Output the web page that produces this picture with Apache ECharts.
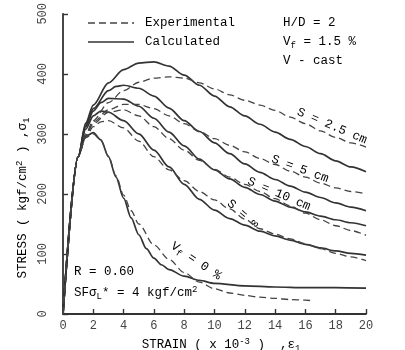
<!DOCTYPE html>
<html><head><meta charset="utf-8">
<script src="https://cdn.jsdelivr.net/npm/echarts@6/dist/echarts.min.js"></script>
<style>html,body{margin:0;padding:0;background:#fff}#c{width:405px;height:350px}</style>
</head><body><div id="c"></div>
<script>
// ---- data (strain x10^-3, stress kgf/cm2) ----
const xTickMax = 20, xTickStep = 2;
const yTickMax = 500, yTickStep = 100;

const calcS25 = [[0,0],[1,262],[1.5,318],[2,348],[3,385],[4,407],[5,418],[6,420],[7,413],[8,398],[9,381],[10,363],[11,345],[12,330],[13,316],[14,303],[15,291],[16,279],[17,267],[18,255],[19,245],[20,237]];
const expS25  = [[0,0],[1,262],[1.5,300],[2,322],[3,352],[4,372],[5,386],[6,393],[7,395],[8,393],[9,385],[10,375],[11,365],[12,356],[13,348],[14,339],[15,328],[16,317],[17,305],[18,294],[19,285],[20,278]];
const calcS5  = [[0,0],[1,262],[1.5,315],[2,342],[3,372],[3.5,379],[4,381],[5,376],[6,363],[7,343],[8,322],[9,304],[10,285],[11,267],[12,250],[13,236],[14,224],[15,213],[16,203],[17,194],[18,185],[19,178],[20,172]];
const expS5   = [[0,0],[1,262],[1.5,298],[2,320],[3,340],[4,349],[5,349],[6,342],[7,330],[8,317],[9,304],[10,292],[11,281],[12,270],[13,259],[14,249],[15,238],[16,228],[17,218],[18,210],[19,204],[20,200]];
const calcS10 = [[0,0],[1,262],[1.5,312],[2,338],[2.5,352],[3,359],[4,358],[5,346],[6,326],[7,303],[8,280],[9,258],[10,240],[11,225],[12,211],[13,199],[14,188],[15,178],[16,170],[17,163],[18,157],[19,152],[20,147]];
const expS10  = [[0,0],[1,262],[1.5,296],[2,317],[3,336],[4,340],[5,330],[6,312],[7,292],[8,273],[9,256],[10,241],[11,228],[12,216],[13,204],[14,192],[15,180],[16,168],[17,157],[18,147],[19,139],[20,131]];
const calcSinf = [[0,0],[1,262],[1.5,308],[2,330],[2.5,338],[3,336],[4,322],[5,300],[6,273],[7,245],[8,216],[9,191],[10,173],[11,159],[12,148],[13,138],[14,130],[15,123],[16,116],[17,110],[18,105],[19,101],[20,98]];
const expSinf  = [[0,0],[1,262],[1.5,294],[2,312],[2.5,320],[3,322],[4,310],[5,288],[6,262],[7,240],[8,222],[9,204],[10,190],[11,175],[12,158],[13,142],[14,133],[15,125],[16,117],[17,109],[18,101],[19,95],[20,89]];
const calcVf0 = [[0,0],[1,262],[1.5,296],[2,302],[2.5,290],[3,262],[3.5,228],[4,193],[4.5,160],[5,132],[5.5,109],[6,93],[6.5,82],[7,74],[8,63],[9,56],[10,51],[12,47],[14,45],[16,44],[18,44],[20,43]];
const expVf0  = [[0,0],[1,262],[1.5,294],[2,300],[2.5,289],[3,263],[3.5,230],[4,198],[4.5,172],[5,150],[6,115],[7,91],[8,69],[9,53],[10,42],[11,35],[12,31],[13,28],[14,26],[15,24],[16,23],[16.5,22]];

const calcSeries = [calcS25, calcS5, calcS10, calcSinf, calcVf0];
const expSeries  = [expS25, expS5, expS10, expSinf, expVf0];

// ---- style ----
const INK = '#333';
const FONT = '"Liberation Mono","DejaVu Sans Mono",monospace';

const chart = echarts.init(document.getElementById('c'), null, {renderer:'canvas'});

const series = [];
calcSeries.forEach(d => series.push({
  type:'line', data:d, smooth:0.3, smoothMonotone:'x', showSymbol:false, silent:true,
  lineStyle:{color:INK, width:1.7, type:'solid'}
}));
expSeries.forEach(d => series.push({
  type:'line', data:d, smooth:0.3, smoothMonotone:'x', showSymbol:false, silent:true,
  lineStyle:{color:'#444', width:1.3, type:[7,4]}
}));

const rich = {
  a:{fontFamily:FONT, fontSize:12.5, color:INK},
  s:{fontFamily:FONT, fontSize:9, color:INK, padding:[7,0,0,0]},
  p:{fontFamily:FONT, fontSize:9, color:INK, padding:[0,0,7,0]}
};
function t(text, x, y, rotDeg, align){
  return {type:'text', x:x, y:y, rotation:(rotDeg||0)*Math.PI/180, silent:true,
    style:{text:text, rich:rich, align:align||'left', verticalAlign:'middle'}};
}

const graphics = [
  // legend
  {type:'line', shape:{x1:88,y1:23,x2:134,y2:23}, style:{stroke:'#444', lineWidth:1.3, lineDash:[7,4]}, silent:true},
  {type:'line', shape:{x1:88,y1:42,x2:134,y2:42}, style:{stroke:INK, lineWidth:1.7}, silent:true},
  t('{a|Experimental}', 145, 23),
  t('{a|Calculated}', 145, 42),
  // conditions
  t('{a|H/D = 2}', 283, 23),
  t('{a|V}{s|f}{a| = 1.5 %}', 283, 42),
  t('{a|V - cast}', 283, 61),
  t('{a|R = 0.60}', 74, 272),
  t('{a|SF\u03C3}{s|L}{a|* = 4 kgf/cm}{p|2}', 74, 293),
  // curve labels
  t('{a|S = 2.5 cm}', 332, 126, -23, 'center'),
  t('{a|S = 5 cm}', 300, 169, -20, 'center'),
  t('{a|S = 10 cm}', 279, 194, -23, 'center'),
  t('{a|S = \u221E}', 243, 214, -40, 'center'),
  t('{a|V}{s|f}{a| = 0 %}', 196, 261, -34, 'center'),
  // axis names
  t('{a|STRESS ( kgf/cm}{p|2}{a| ) ,\u03C3}{s|1}', 23, 198, 90, 'center'),
  t('{a|STRAIN ( x 10}{p|-3}{a| )  ,\u03B5}{s|1}', 221, 345, 0, 'center')
];

chart.setOption({
  animation:false,
  backgroundColor:'#fff',
  grid:{left:63, right:39, top:11.5, bottom:36},
  xAxis:{
    type:'value', min:0, max:xTickMax, interval:xTickStep,
    axisLine:{show:true, lineStyle:{color:INK, width:1.8}},
    axisTick:{show:true, inside:true, length:5, lineStyle:{color:INK, width:1.4}},
    axisLabel:{color:'#444', fontFamily:FONT, fontSize:12, margin:6},
    splitLine:{show:false}
  },
  yAxis:{
    type:'value', min:0, max:yTickMax, interval:yTickStep,
    axisLine:{show:true, lineStyle:{color:INK, width:1.8}},
    axisTick:{show:true, inside:true, length:5, lineStyle:{color:INK, width:1.4}},
    axisLabel:{color:'#444', fontFamily:FONT, fontSize:12, rotate:90, margin:14},
    splitLine:{show:false}
  },
  series:series,
  graphic:graphics
});
</script></body></html>
